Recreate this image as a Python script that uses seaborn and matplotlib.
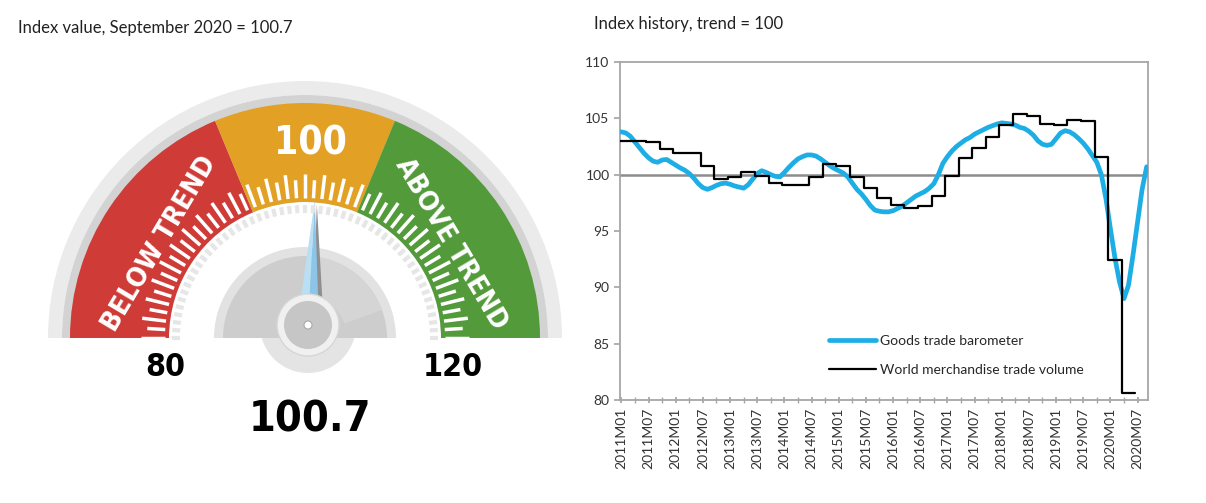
import numpy as np
import pandas as pd
import matplotlib
matplotlib.use("Agg")
import matplotlib.pyplot as plt
from matplotlib.patches import Wedge, Circle, Polygon
import seaborn as sns

sns.set_theme(style="white")
plt.rcParams["font.family"] = ["Lato", "DejaVu Sans"]

# ---- data ----
months = pd.period_range("2011-01", "2020-09", freq="M")
month_labels = [f"{p.year}M{p.month:02d}" for p in months]

barometer = [
    103.8, 103.7, 103.4, 102.9, 102.4, 101.9, 101.5, 101.2, 101.1, 101.3,
    101.35, 101.1, 100.85, 100.6, 100.4, 100.1, 99.7, 99.2, 98.85, 98.7,
    98.85, 99.05, 99.2, 99.25, 99.15, 99.0, 98.9, 98.8, 99.1, 99.6,
    100.1, 100.35, 100.2, 100.0, 99.85, 99.8, 100.2, 100.65, 101.05, 101.4,
    101.6, 101.75, 101.75, 101.65, 101.4, 101.1, 100.8, 100.55, 100.35, 100.15,
    99.8, 99.25, 98.7, 98.3, 97.8, 97.25, 96.85, 96.75, 96.7, 96.7,
    96.8, 97.0, 97.2, 97.5, 97.8, 98.1, 98.3, 98.5, 98.8, 99.2,
    100.0, 101.0, 101.6, 102.1, 102.5, 102.8, 103.1, 103.3, 103.6, 103.8,
    104.0, 104.2, 104.35, 104.5, 104.6, 104.55, 104.5, 104.4, 104.2, 104.1,
    103.85, 103.5, 103.0, 102.7, 102.6, 102.7, 103.2, 103.7, 103.9, 103.8,
    103.55, 103.2, 102.8, 102.3, 101.7, 101.1, 100.0, 97.9, 95.2, 92.6,
    90.5, 89.0, 90.2, 92.9, 95.8, 98.7, 100.7,
]

# quarterly trade volume, 2011Q1 .. 2020Q2
volume_q = [
    103.0, 103.0, 102.9, 102.3, 101.9, 101.9, 100.8, 99.65, 99.8, 100.25,
    99.85, 99.3, 99.05, 99.05, 99.8, 100.95, 100.8, 99.8, 98.85, 97.9,
    97.3, 97.0, 97.25, 98.1, 99.9, 101.5, 102.4, 103.3, 104.4, 105.4,
    105.25, 104.5, 104.4, 104.85, 104.75, 101.6, 92.4, 80.6,
]

trend = 100
gauge_value = 100.7
gauge_min, gauge_max = 80, 120
zone_lo, zone_hi = 95, 105

# ---- figure ----
fig = plt.figure(figsize=(12.06, 5.03), dpi=100)

fig.text(18 / 1206, 1 - 28 / 503, "Index value, September 2020 = 100.7",
         fontsize=12, va="center", color="#222222")
fig.text(594 / 1206, 1 - 24 / 503, "Index history, trend = 100",
         fontsize=12, va="center", color="#222222")

# ---- right: index history ----
ax = fig.add_axes([620 / 1206, 1 - 400 / 503, 528 / 1206, 338 / 503])
mx = np.arange(len(barometer))
q_x = np.append(np.arange(len(volume_q)) * 3 - 0.5, len(volume_q) * 3 - 0.5)
q_v = volume_q + [volume_q[-1]]

ax.axhline(trend, color="#8c8c8c", lw=1.8, zorder=1)
sns.lineplot(x=mx, y=barometer, color="#1eaee6", lw=3.4, ax=ax,
             label="Goods trade barometer", zorder=3)
sns.lineplot(x=q_x, y=q_v, color="black", lw=1.6, drawstyle="steps-post",
             ax=ax, label="World merchandise trade volume", zorder=4)

ax.set_xlim(-0.3, len(barometer) - 0.7)
ax.set_ylim(80, 110)
ax.set_yticks(range(80, 111, 5))
ax.set_xticks(mx[::6])
ax.set_xticklabels(month_labels[::6], rotation=90, fontsize=10, color="#333333")
ax.set_xticks(mx[::3], minor=True)
ax.tick_params(axis="y", labelsize=10, labelcolor="#333333", length=4,
               color="#a6a6a6", left=True, direction="out")
ax.tick_params(axis="x", which="both", length=4, color="#a6a6a6",
               bottom=True, direction="inout")
for s in ax.spines.values():
    s.set_color("#a6a6a6")
    s.set_linewidth(1.3)
ax.legend(loc="lower left", bbox_to_anchor=(0.372, 0.035), frameon=False,
          fontsize=10, handlelength=3.4, handletextpad=0.3, labelspacing=1.2)

# ---- left: gauge ----
g = fig.add_axes([0, 0, 590 / 1206, 1])
g.set_xlim(0, 590)
g.set_ylim(0, 503)
g.axis("off")

cx, cy = 305, 503 - 338


def ang(v):
    return 180 - (v - gauge_min) / (gauge_max - gauge_min) * 180


def pt(r, t, x0=cx, y0=cy):
    t = np.radians(t)
    return x0 + r * np.cos(t), y0 + r * np.sin(t)


r_out, r_in = 235, 136
g.add_patch(Wedge((cx, cy), 257, 0, 180, width=14, fc="#ebebeb", ec="none"))
g.add_patch(Wedge((cx, cy), 243, 0, 180, width=r_out - r_in + 8, fc="#d3d3d3", ec="none"))
g.add_patch(Wedge((cx, cy), r_out, ang(zone_lo), 180, width=r_out - r_in,
                  fc="#cf3b37", ec="none"))
g.add_patch(Wedge((cx, cy), r_out, ang(zone_hi), ang(zone_lo), width=r_out - r_in,
                  fc="#e2a125", ec="none"))
g.add_patch(Wedge((cx, cy), r_out, 0, ang(zone_hi), width=r_out - r_in,
                  fc="#539a3a", ec="none"))

# white scale ticks and light grey dashes
tick_vals = np.linspace(gauge_min, gauge_max, 53)
for i, v in enumerate(tick_vals):
    t = ang(v)
    r2 = r_in + (28 if i % 2 == 0 else 22)
    (x1, y1), (x2, y2) = pt(r_in + 4, t), pt(r2, t)
    g.plot([x1, x2], [y1, y2], color="white", lw=2.5, solid_capstyle="butt")
    (x1, y1), (x2, y2) = pt(r_in - 11, t), pt(r_in - 3, t)
    g.plot([x1, x2], [y1, y2], color="#e6e6e6", lw=3, solid_capstyle="butt")

# inner dome
hx, hy = 308, 503 - 325
g.add_patch(Circle((hx, hy), 48, fc="#e4e4e4", ec="none"))
g.add_patch(Wedge((cx, cy), 91, 0, 180, fc="#e2e2e2", ec="none"))
g.add_patch(Wedge((cx, cy), 82, 0, 180, fc="#cdcdcd", ec="none"))
g.add_patch(Wedge((cx, cy), 82, 20, 80, width=40, fc="#d5d5d5", ec="none"))

# needle
a = np.radians(ang(gauge_value))
ux, uy = np.cos(a), np.sin(a)
px, py = -uy, ux
tip = (hx + 125 * ux, hy + 125 * uy)
g.add_patch(Polygon([(hx + 4, hy - 2), (hx - 11 * px + 5, hy - 11 * py - 2),
                     (tip[0] + 2, tip[1] - 4)], fc="#8f8f8f", ec="none"))
g.add_patch(Polygon([(hx + 11 * px, hy + 11 * py), (hx, hy), tip], fc="#b9dff5", ec="none"))
g.add_patch(Polygon([(hx, hy), (hx - 11 * px, hy - 11 * py), tip], fc="#8cc5e8", ec="none"))

# hub
g.add_patch(Circle((hx, hy), 31, fc="#f0f0f0", ec="#d6d6d6", lw=1))
g.add_patch(Circle((hx, hy), 24, fc="#c6c6c6", ec="none"))
g.add_patch(Circle((hx, hy), 4, fc="white", ec="#aaaaaa", lw=0.8))

gauge_font = dict(family="DejaVu Sans", stretch="condensed", fontweight="bold")
g.text(hx + 2, 503 - 143, f"{trend}", color="white", fontsize=28,
       ha="center", va="center", **gauge_font)
for label, v in [("BELOW TREND", (gauge_min + zone_lo) / 2),
                 ("ABOVE TREND", (gauge_max + zone_hi) / 2)]:
    t = ang(v)
    side = 1 if t > 90 else -1
    x, y = pt(173, t + 1 * side)
    g.text(x, y, label, rotation=t - 90 + 3 * side, rotation_mode="anchor",
           color="white", fontsize=19.5, ha="center", va="center", **gauge_font)

g.text(165, 503 - 367, f"{gauge_min}", fontsize=23, ha="center", va="center",
       color="black", **gauge_font)
g.text(453, 503 - 367, f"{gauge_max}", fontsize=23, ha="center", va="center",
       color="black", **gauge_font)
g.text(310, 503 - 420, f"{gauge_value}", fontsize=31, ha="center", va="center",
       color="black", **gauge_font)

fig.savefig("out.png", dpi=100)
